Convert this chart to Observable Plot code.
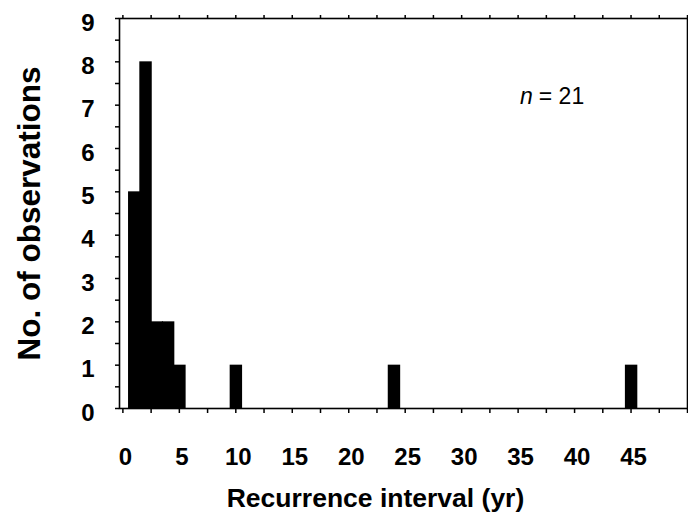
<!DOCTYPE html>
<html>
<head>
<meta charset="utf-8">
<script src="https://cdn.jsdelivr.net/npm/d3@7"></script>
<script src="https://cdn.jsdelivr.net/npm/@observablehq/plot@0.6"></script>
<style>
  html, body { margin: 0; padding: 0; background: #fff; }
  #chart svg { display: block; }
</style>
</head>
<body>
<div id="chart"></div>
<script>
// Recurrence interval (yr) and number of observations per interval
const intervals = [1, 2, 3, 4, 5, 10, 24, 45];
const counts = [5, 8, 2, 2, 1, 1, 1, 1];
const xTickLabels = [0, 5, 10, 15, 20, 25, 30, 35, 40, 45];
const xMinorTicks = d3.range(0, 50.1, 2.5);
const yTickLabels = [0, 1, 2, 3, 4, 5, 6, 7, 8, 9];
const yMinorTicks = d3.range(0, 9.01, 0.5);
const xTitle = "Recurrence interval (yr)";
const yTitle = "No. of observations";
const nLabel = {x: 36.3, y: 7.2, italic: "n", rest: "= 21"};

const bars = intervals.map((v, i) => ({v, c: counts[i]}));

const font = "'Liberation Sans', Arial, Helvetica, sans-serif";

const chart = Plot.plot({
  width: 688,
  height: 512,
  marginLeft: 119,
  marginRight: 1,
  marginTop: 18,
  marginBottom: 104,
  style: {fontFamily: font, background: "#fff", color: "#000"},
  x: {domain: [-0.3, 50]},
  y: {domain: [0, 9]},
  marks: [
    Plot.rectY(bars, {x1: d => d.v - 0.5, x2: d => d.v + 0.6, y1: 0, y2: "c", fill: "#000"}),
    Plot.frame({stroke: "#000", strokeWidth: 1.6}),
    // bottom x ticks
    Plot.axisX(xMinorTicks, {anchor: "bottom", tickSize: 5, strokeWidth: 1.5, tickFormat: () => "", label: null}),
    // top x ticks
    Plot.axisX(xMinorTicks, {anchor: "top", tickSize: 4, strokeWidth: 1.5, tickFormat: () => "", label: null}),
    // y ticks
    Plot.axisY(yMinorTicks, {anchor: "left", tickSize: 4, strokeWidth: 1.5, tickFormat: () => "", label: null}),
    // tick labels
    Plot.text(xTickLabels, {x: d => d, text: d => String(d), frameAnchor: "bottom", lineAnchor: "middle", textAnchor: "middle", dy: 48.5, dx: 2.5, fontSize: 24, fontWeight: "bold"}),
    Plot.text(yTickLabels, {y: d => d, text: d => String(d), frameAnchor: "left", lineAnchor: "middle", textAnchor: "end", dx: -25, dy: 4.5, fontSize: 24, fontWeight: "bold"}),
    // axis titles
    Plot.text([xTitle], {frameAnchor: "bottom", lineAnchor: "middle", textAnchor: "middle", dx: -28, dy: 90, fontSize: 26.5, fontWeight: "bold", text: d => d}),
    Plot.text([yTitle], {frameAnchor: "left", lineAnchor: "middle", textAnchor: "middle", dx: -90, rotate: -90, fontSize: 31.5, fontWeight: "bold", text: d => d}),
    // n = 21 annotation
    Plot.text([nLabel], {x: "x", y: "y", text: "italic", textAnchor: "end", lineAnchor: "middle", fontStyle: "italic", fontSize: 23}),
    Plot.text([nLabel], {x: "x", y: "y", text: "rest", textAnchor: "start", lineAnchor: "middle", fontSize: 23, dx: 6})
  ]
});

document.getElementById("chart").appendChild(chart);
</script>
</body>
</html>
